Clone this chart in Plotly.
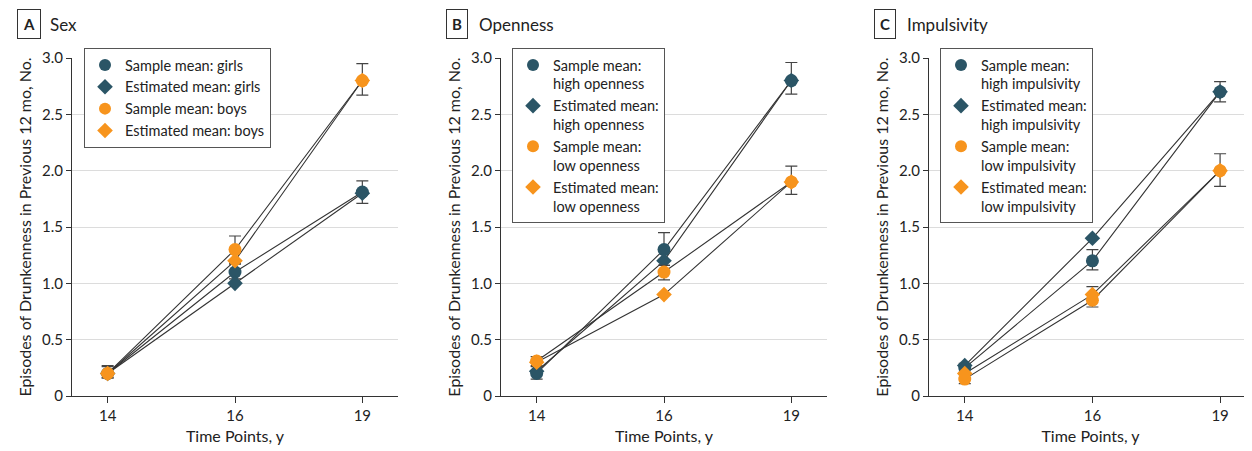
import plotly.graph_objects as go

# The page body adds an 8px offset; the figure is sized so that it fills the window.
OFF = 8
W, H = 1252 - OFF, 451 - OFF
FONT = "Lato"

# ---------------- data ----------------
time_points = ["14", "16", "19"]
y_ticks = [0, 0.5, 1.0, 1.5, 2.0, 2.5, 3.0]
y_tick_labels = ["0", "0.5", "1.0", "1.5", "2.0", "2.5", "3.0"]

# Panel A: Sex
girls_sample = [0.20, 1.10, 1.81]
girls_sample_err_plus = [0.07, 0.07, 0.10]
girls_sample_err_minus = [0.04, 0.06, 0.10]
girls_est = [0.20, 1.00, 1.80]
boys_sample = [0.20, 1.30, 2.80]
boys_sample_err_plus = [0.06, 0.12, 0.15]
boys_sample_err_minus = [0.04, 0.12, 0.13]
boys_est = [0.20, 1.20, 2.80]

# Panel B: Openness
high_open_sample = [0.20, 1.30, 2.80]
high_open_err_plus = [0.06, 0.15, 0.16]
high_open_err_minus = [0.05, 0.14, 0.12]
high_open_est = [0.22, 1.20, 2.80]
low_open_sample = [0.31, 1.10, 1.90]
low_open_err_plus = [0.04, 0.06, 0.14]
low_open_err_minus = [0.04, 0.07, 0.11]
low_open_est = [0.30, 0.90, 1.90]

# Panel C: Impulsivity
high_imp_sample = [0.25, 1.20, 2.70]
high_imp_err_plus = [0.04, 0.10, 0.09]
high_imp_err_minus = [0.04, 0.08, 0.09]
high_imp_est = [0.27, 1.40, 2.70]
low_imp_sample = [0.15, 0.85, 2.00]
low_imp_err_plus = [0.04, 0.12, 0.15]
low_imp_err_minus = [0.04, 0.06, 0.14]
low_imp_est = [0.20, 0.90, 2.00]

panels = [
    dict(letter="A", title="Sex", series=[
        ("Sample mean: girls", girls_sample, girls_sample_err_plus, girls_sample_err_minus, "dark", "circle"),
        ("Estimated mean: girls", girls_est, None, None, "dark", "diamond"),
        ("Sample mean: boys", boys_sample, boys_sample_err_plus, boys_sample_err_minus, "orange", "circle"),
        ("Estimated mean: boys", boys_est, None, None, "orange", "diamond"),
    ]),
    dict(letter="B", title="Openness", series=[
        ("Sample mean:<br>high openness", high_open_sample, high_open_err_plus, high_open_err_minus, "dark", "circle"),
        ("Estimated mean:<br>high openness", high_open_est, None, None, "dark", "diamond"),
        ("Sample mean:<br>low openness", low_open_sample, low_open_err_plus, low_open_err_minus, "orange", "circle"),
        ("Estimated mean:<br>low openness", low_open_est, None, None, "orange", "diamond"),
    ]),
    dict(letter="C", title="Impulsivity", series=[
        ("Sample mean:<br>high impulsivity", high_imp_sample, high_imp_err_plus, high_imp_err_minus, "dark", "circle"),
        ("Estimated mean:<br>high impulsivity", high_imp_est, None, None, "dark", "diamond"),
        ("Sample mean:<br>low impulsivity", low_imp_sample, low_imp_err_plus, low_imp_err_minus, "orange", "circle"),
        ("Estimated mean:<br>low impulsivity", low_imp_est, None, None, "orange", "diamond"),
    ]),
]

# ---------------- styling ----------------
COLORS = {"dark": "#2b5566", "orange": "#f7941d"}
LINE_COLOR = "#333333"
ERR_COLOR = "#444444"
TEXT = "#222222"


def fx(px):
    return (px - OFF) / W


def fy(py):
    return 1 - (py - OFF) / H


# plot areas in window pixels (left, right)
x_px = [(72, 398), (501, 827), (929, 1252)]
x_ranges = [[-0.28, 2.28], [-0.28, 2.28], [-0.28, 2.25]]
y_top_px, y_bot_px = 58, 396
legend_px = [(84, 48), (512, 48), (940, 48)]

fig = go.Figure()

for i, p in enumerate(panels):
    n = "" if i == 0 else str(i + 1)
    xa, ya = "x" + n, "y" + n
    leg = "legend" + n
    # connecting lines (under markers)
    for name, vals, ep, em, col, sym in p["series"]:
        fig.add_trace(go.Scatter(
            x=time_points, y=vals, mode="lines", xaxis=xa, yaxis=ya,
            line=dict(color=LINE_COLOR, width=1.1), showlegend=False, hoverinfo="skip"))
    # markers with error bars
    for name, vals, ep, em, col, sym in p["series"]:
        kw = {}
        if ep is not None:
            kw["error_y"] = dict(type="data", symmetric=False, array=ep, arrayminus=em,
                                 color=ERR_COLOR, thickness=1.2, width=6)
        fig.add_trace(go.Scatter(
            x=time_points, y=vals, mode="markers", name=name, xaxis=xa, yaxis=ya,
            legend=leg,
            marker=dict(color=COLORS[col], symbol=sym, size=13 if sym == "circle" else 12,
                        line=dict(width=0)),
            **kw))

    l, r = x_px[i]
    fig.layout["xaxis" + n] = dict(
        domain=[fx(l), min(fx(r), 1.0)], range=x_ranges[i], type="category",
        anchor=ya, showgrid=False, zeroline=False,
        showline=True, linecolor="#333333", linewidth=1,
        ticks="outside", ticklen=6, tickcolor="#333333", tickwidth=1,
        tickfont=dict(family=FONT, size=15, color=TEXT),
        title=dict(text="Time Points, y", font=dict(family=FONT, size=16, color=TEXT), standoff=7),
        fixedrange=True, automargin=False,
    )
    fig.layout["yaxis" + n] = dict(
        domain=[fy(y_bot_px), fy(y_top_px)], range=[0, 3.0],
        anchor=xa, tickvals=y_ticks, ticktext=y_tick_labels,
        showgrid=True, gridcolor="#dcdcdc", gridwidth=1, zeroline=False,
        showline=True, linecolor="#333333", linewidth=1,
        ticks="outside", ticklen=5, tickcolor="#333333", tickwidth=1,
        tickfont=dict(family=FONT, size=15, color=TEXT),
        title=dict(text="Episodes of Drunkenness in Previous 12 mo, No.",
                   font=dict(family=FONT, size=16, color=TEXT), standoff=6),
        fixedrange=True, automargin=False,
    )
    lx, ly = legend_px[i]
    fig.layout[leg] = dict(
        x=fx(lx), y=fy(ly), xref="paper", yref="paper", xanchor="left", yanchor="top",
        bgcolor="white", bordercolor="#555555", borderwidth=1,
        font=dict(family=FONT, size=14.5, color=TEXT), valign="top",
        tracegroupgap=0, itemsizing="constant",
    )
    # panel label
    fig.add_annotation(
        x=fx(l - 55), y=fy(24), xref="paper", yref="paper",
        text="<b>" + p["letter"] + "</b>", showarrow=False, xanchor="left", yanchor="middle",
        font=dict(family=FONT, size=15, color=TEXT),
        bordercolor="#333333", borderwidth=1, borderpad=5, bgcolor="white",
    )
    fig.add_annotation(
        x=fx(l - 24), y=fy(24), xref="paper", yref="paper",
        text=p["title"], showarrow=False, xanchor="left", yanchor="middle",
        font=dict(family=FONT, size=17, color=TEXT),
    )

fig.update_layout(
    width=W, height=H, margin=dict(l=0, r=0, t=0, b=0, pad=0, autoexpand=False),
    paper_bgcolor="white", plot_bgcolor="white",
    font=dict(family=FONT, color=TEXT),
)

fig.write_html("out.html", config={"displayModeBar": False})
